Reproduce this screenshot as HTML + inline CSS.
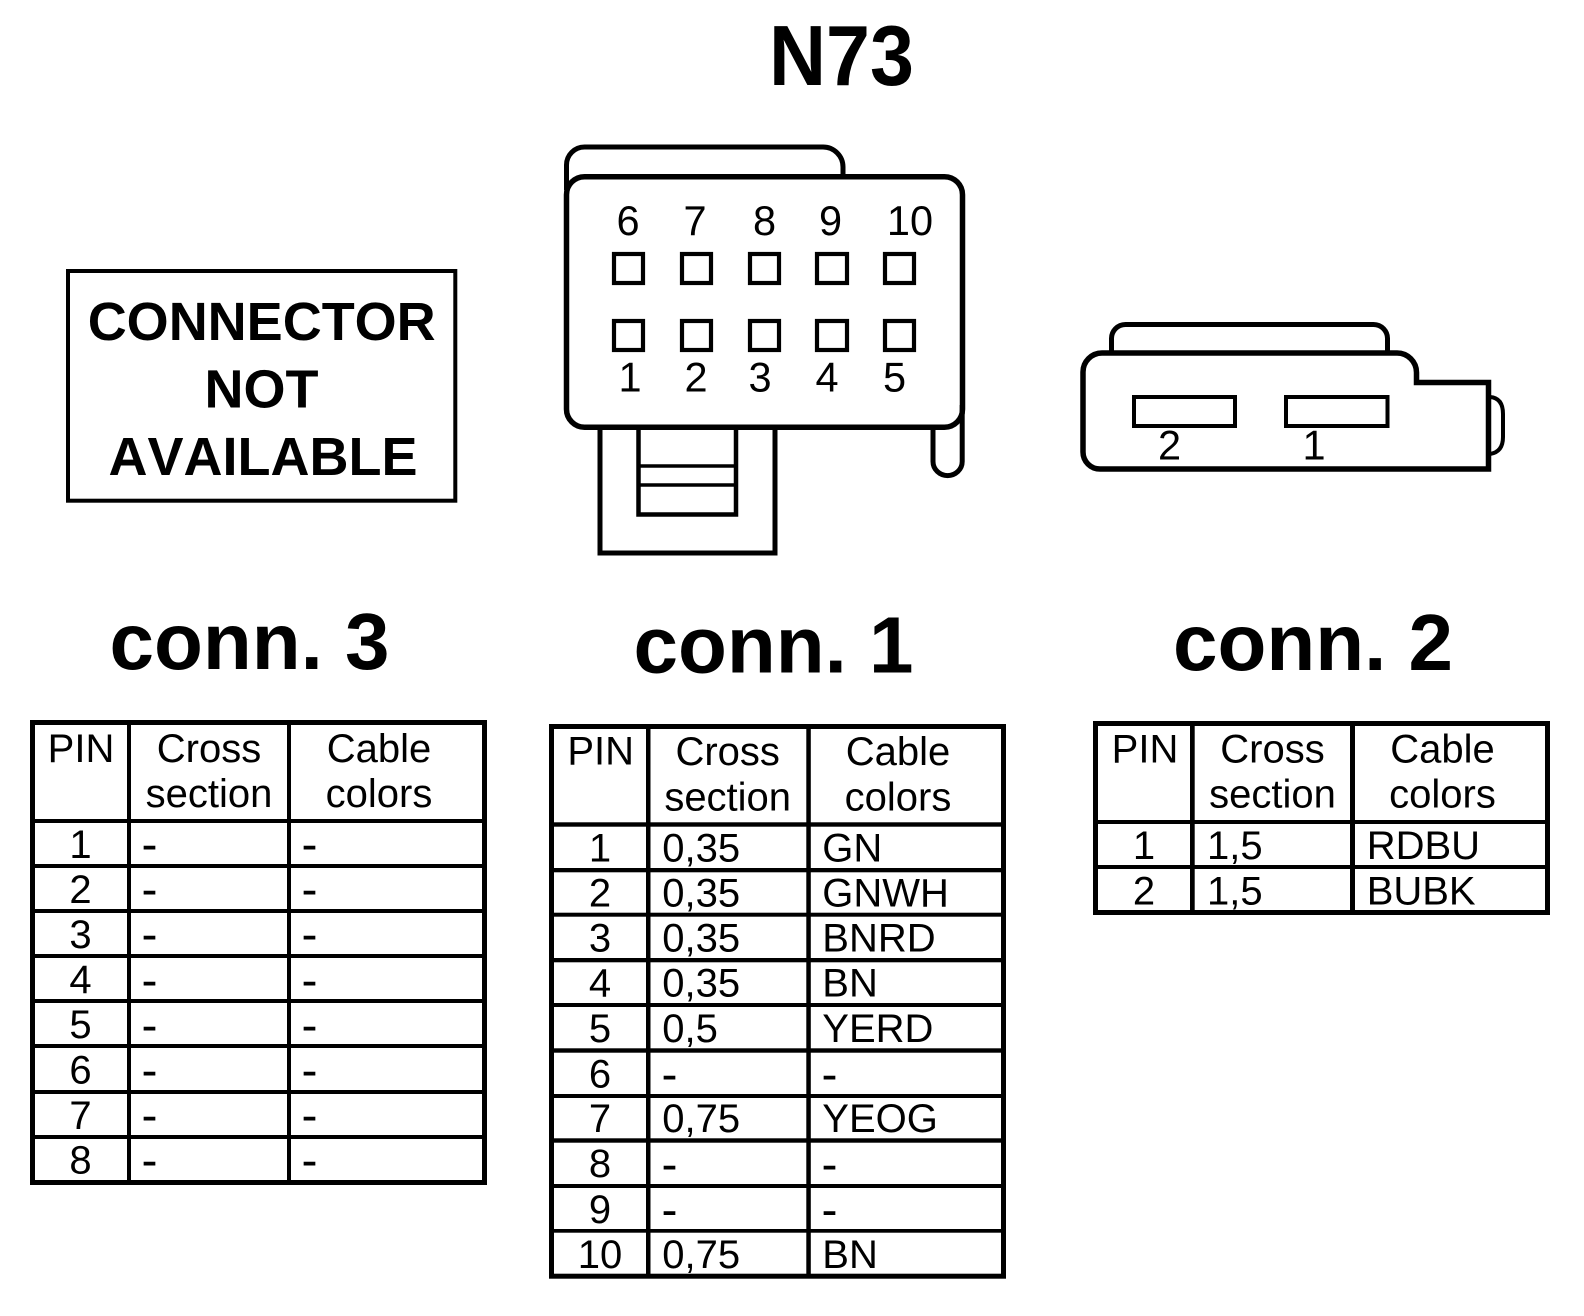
<!DOCTYPE html>
<html lang="en">
<head>
<meta charset="utf-8">
<title>N73</title>
<style>
html,body{margin:0;padding:0;background:#fff;width:1584px;height:1316px;overflow:hidden}
svg{display:block}
text{font-family:"Liberation Sans",Arial,sans-serif;fill:#000}
.b{font-weight:700}
.k{font-kerning:none}
.t{font-size:40px}
.d{font-size:48px;transform:translateY(3.4px)}
.n{font-size:41.5px}
.m{text-anchor:middle}
.s{fill:none;stroke:#000;stroke-width:5}
</style>
</head>
<body>
<svg width="1584" height="1316" viewBox="0 0 1584 1316" xmlns="http://www.w3.org/2000/svg">
<rect width="1584" height="1316" fill="#fff"/>

<!-- Titles -->
<text class="b" transform="translate(769 85) scale(1 1.08)" font-size="79">N73</text>
<text class="b" x="109.5" y="669" font-size="80">conn. 3</text>
<text class="b" x="633.5" y="672.7" font-size="80">conn. 1</text>
<text class="b" x="1173" y="670" font-size="80">conn. 2</text>

<!-- Not available box -->
<rect x="68" y="271" width="387.3" height="229.7" fill="none" stroke="#000" stroke-width="4"/>
<text class="b m k" x="261.7" y="340" font-size="54">CONNECTOR</text>
<text class="b m k" x="261.5" y="407.7" font-size="54">NOT</text>
<text class="b m k" x="263" y="475" font-size="54">AVAILABLE</text>

<!-- Connector 1 -->
<path class="s" d="M566.5 190V165A18 18 0 0 1 584.5 147H823A20 20 0 0 1 843 167V177"/>
<path class="s" d="M600 427V553H775V427"/>
<path d="M638.5 427V514.5H736V427" fill="none" stroke="#000" stroke-width="4.5"/>
<path d="M638 466H736M638 485H736" fill="none" stroke="#000" stroke-width="3.5"/>
<path class="s" d="M933 427V461.5A14.5 14 0 0 0 962.2 461.5V405"/>
<rect class="s" x="566.5" y="176.7" width="396" height="250.5" rx="18" ry="18" style="stroke-width:5.5"/>
<g fill="none" stroke="#000" stroke-width="4.2">
<rect x="614" y="254" width="29" height="29"/>
<rect x="682" y="254" width="29" height="29"/>
<rect x="750" y="254" width="29" height="29"/>
<rect x="817" y="254" width="30" height="29"/>
<rect x="885" y="254" width="29" height="29"/>
<rect x="614" y="321" width="29" height="29"/>
<rect x="682" y="321" width="29" height="29"/>
<rect x="750" y="321" width="29" height="29"/>
<rect x="817" y="321" width="30" height="29"/>
<rect x="885" y="321" width="29" height="29"/>
</g>
<g>
<text class="n m" x="628" y="235">6</text>
<text class="n m" x="695" y="235">7</text>
<text class="n m" x="764.5" y="235">8</text>
<text class="n m" x="830.5" y="235">9</text>
<text class="n m" x="910" y="235">10</text>
<text class="n m" x="630" y="391.5">1</text>
<text class="n m" x="696" y="391.5">2</text>
<text class="n m" x="760" y="391.5">3</text>
<text class="n m" x="827" y="391.5">4</text>
<text class="n m" x="894.5" y="391.5">5</text>
</g>

<!-- Connector 2 -->
<path class="s" d="M1111.5 353V339A14 14 0 0 1 1125.5 324.5H1373.5A14 14 0 0 1 1387.5 339V353"/>
<path class="s" d="M1083 372A19 19 0 0 1 1102 353H1397A19.5 19.5 0 0 1 1416.5 372.5V382.5H1488.5V469H1100A17 17 0 0 1 1083 452Z" style="stroke-width:5.5"/>
<path d="M1490 397Q1503 398 1503 414V437Q1503 452 1490 454" fill="none" stroke="#000" stroke-width="4"/>
<rect x="1134" y="397" width="101" height="29" fill="none" stroke="#000" stroke-width="4"/>
<rect x="1286" y="397" width="101.5" height="29" fill="none" stroke="#000" stroke-width="4"/>
<text class="n m" x="1169.5" y="459.5">2</text>
<text class="n m" x="1314" y="459.5">1</text>

<!-- Table conn. 3 -->
<rect x="32.5" y="722.5" width="452" height="460" fill="none" stroke="#000" stroke-width="5"/>
<g fill="#000">
<rect x="127" y="720" width="4" height="465"/>
<rect x="287" y="720" width="4" height="465"/>
<rect x="30" y="819" width="457" height="4"/>
<rect x="30" y="864" width="457" height="4"/>
<rect x="30" y="909" width="457" height="4"/>
<rect x="30" y="954" width="457" height="4"/>
<rect x="30" y="999" width="457" height="4"/>
<rect x="30" y="1044" width="457" height="4"/>
<rect x="30" y="1090" width="457" height="4"/>
<rect x="30" y="1135" width="457" height="4"/>
</g>
<text class="t m" x="81" y="762">PIN</text>
<text class="t m" x="209" y="762">Cross</text>
<text class="t m" x="209" y="807">section</text>
<text class="t m" x="379" y="762">Cable</text>
<text class="t m" x="379" y="807">colors</text>
<text class="t m" x="80.5" y="858">1</text><text class="d" x="141.5" y="857">-</text><text class="d" x="301.5" y="857">-</text>
<text class="t m" x="80.5" y="903">2</text><text class="d" x="141.5" y="902">-</text><text class="d" x="301.5" y="902">-</text>
<text class="t m" x="80.5" y="948">3</text><text class="d" x="141.5" y="947">-</text><text class="d" x="301.5" y="947">-</text>
<text class="t m" x="80.5" y="993">4</text><text class="d" x="141.5" y="993">-</text><text class="d" x="301.5" y="993">-</text>
<text class="t m" x="80.5" y="1038">5</text><text class="d" x="141.5" y="1038">-</text><text class="d" x="301.5" y="1038">-</text>
<text class="t m" x="80.5" y="1083.5">6</text><text class="d" x="141.5" y="1083">-</text><text class="d" x="301.5" y="1083">-</text>
<text class="t m" x="80.5" y="1129">7</text><text class="d" x="141.5" y="1128">-</text><text class="d" x="301.5" y="1128">-</text>
<text class="t m" x="80.5" y="1173.5">8</text><text class="d" x="141.5" y="1173">-</text><text class="d" x="301.5" y="1173">-</text>

<!-- Table conn. 1 -->
<rect x="551.5" y="726.5" width="452" height="549.7" fill="none" stroke="#000" stroke-width="5"/>
<g fill="#000">
<rect x="646" y="724" width="4.5" height="554"/>
<rect x="806.3" y="724" width="4.5" height="554"/>
<rect x="549" y="822.3" width="457" height="4.4"/>
<rect x="549" y="868" width="457" height="4.3"/>
<rect x="549" y="912.7" width="457" height="4"/>
<rect x="549" y="958" width="457" height="4.3"/>
<rect x="549" y="1003" width="457" height="4"/>
<rect x="549" y="1048.3" width="457" height="4.4"/>
<rect x="549" y="1094" width="457" height="4"/>
<rect x="549" y="1138.3" width="457" height="4.4"/>
<rect x="549" y="1184" width="457" height="4"/>
<rect x="549" y="1229" width="457" height="3.7"/>
</g>
<text class="t m" x="600.7" y="764.5">PIN</text>
<text class="t m" x="727.7" y="765">Cross</text>
<text class="t m" x="727.7" y="810.5">section</text>
<text class="t m" x="898" y="765">Cable</text>
<text class="t m" x="898" y="810.5">colors</text>
<text class="t m" x="600" y="861.7">1</text><text class="t" x="662.3" y="861.7">0,35</text><text class="t" x="822.3" y="861.7">GN</text>
<text class="t m" x="600" y="906.7">2</text><text class="t" x="662.3" y="906.7">0,35</text><text class="t" x="822.3" y="906.7">GNWH</text>
<text class="t m" x="600" y="951.7">3</text><text class="t" x="662.3" y="951.7">0,35</text><text class="t" x="822.3" y="951.7">BNRD</text>
<text class="t m" x="600" y="996.7">4</text><text class="t" x="662.3" y="996.7">0,35</text><text class="t" x="822.3" y="996.7">BN</text>
<text class="t m" x="600" y="1042">5</text><text class="t" x="662.3" y="1042">0,5</text><text class="t" x="822.3" y="1042">YERD</text>
<text class="t m" x="600" y="1087.5">6</text><text class="d" x="661.5" y="1087">-</text><text class="d" x="821.5" y="1087">-</text>
<text class="t m" x="600" y="1132">7</text><text class="t" x="662.3" y="1132">0,75</text><text class="t" x="822.3" y="1132">YEOG</text>
<text class="t m" x="600" y="1177">8</text><text class="d" x="661.5" y="1177">-</text><text class="d" x="821.5" y="1177">-</text>
<text class="t m" x="600" y="1223">9</text><text class="d" x="661.5" y="1222.7">-</text><text class="d" x="821.5" y="1222.7">-</text>
<text class="t m" x="600" y="1268">10</text><text class="t" x="662.3" y="1268">0,75</text><text class="t" x="822.3" y="1268">BN</text>

<!-- Table conn. 2 -->
<rect x="1095.5" y="723.5" width="452" height="189" fill="none" stroke="#000" stroke-width="5"/>
<g fill="#000">
<rect x="1190" y="721" width="4.7" height="194"/>
<rect x="1350" y="721" width="5" height="194"/>
<rect x="1093" y="820" width="457" height="4"/>
<rect x="1093" y="865" width="457" height="4"/>
</g>
<text class="t m" x="1145" y="762.3">PIN</text>
<text class="t m" x="1272.5" y="762.3">Cross</text>
<text class="t m" x="1272.5" y="807.5">section</text>
<text class="t m" x="1442.5" y="762.3">Cable</text>
<text class="t m" x="1442.5" y="807.5">colors</text>
<text class="t m" x="1144" y="858.8">1</text><text class="t" x="1207" y="858.8">1,5</text><text class="t" x="1366.7" y="858.8">RDBU</text>
<text class="t m" x="1144" y="904.5">2</text><text class="t" x="1207" y="904.5">1,5</text><text class="t" x="1366.7" y="904.5">BUBK</text>
</svg>
</body>
</html>
